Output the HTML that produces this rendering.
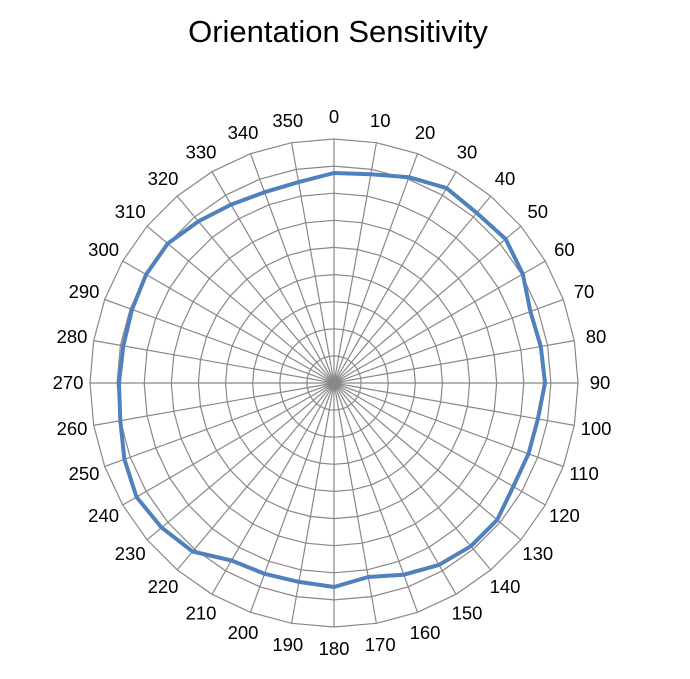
<!DOCTYPE html>
<html><head><meta charset="utf-8"><style>
html,body{margin:0;padding:0;background:#fff;}
svg{display:block}
</style></head><body>
<svg id="s" width="690" height="679" xmlns="http://www.w3.org/2000/svg">
<text x="338" y="42" font-family="Liberation Sans, sans-serif" font-size="31" text-anchor="middle" fill="#000">Orientation Sensitivity</text>
<g id="g"></g>
</svg>
<script>
var cx=334,cy=383,R=244,N=36,rings=9;
var g=document.getElementById('g'),h='';
function pt(a,r){var t=a*Math.PI/180;return [cx+r*Math.sin(t),cy-r*Math.cos(t)];}
for(var k=1;k<=rings;k++){var r=R*k/rings,p=[];for(var i=0;i<N;i++){var q=pt(i*10,r);p.push(q[0].toFixed(1)+','+q[1].toFixed(1));}
h+='<polygon points="'+p.join(' ')+'" fill="none" stroke="#888" stroke-width="1.2"/>';}
for(var i=0;i<N;i++){var q=pt(i*10,R);h+='<line x1="'+cx+'" y1="'+cy+'" x2="'+q[0].toFixed(1)+'" y2="'+q[1].toFixed(1)+'" stroke="#888" stroke-width="1.2"/>';}
var d=[210,212,219,225,222,224,218,209,210,211,207,207,207,213,213,210,204,197,204,202,203,205,220,225,228,223,217,215,214,215,217,217,211,206,203,204];
var p=[];for(var i=0;i<N;i++){var q=pt(i*10,d[i]);p.push(q[0].toFixed(1)+','+q[1].toFixed(1));}
h+='<polygon points="'+p.join(' ')+'" fill="none" stroke="#4F81BD" stroke-width="4" stroke-linejoin="round"/>';
for(var i=0;i<N;i++){var q=pt(i*10,266);h+='<text x="'+q[0].toFixed(1)+'" y="'+(q[1]+6).toFixed(1)+'" font-family="Liberation Sans, sans-serif" font-size="18.5" text-anchor="middle" fill="#000">'+(i*10)+'</text>';}
g.innerHTML=h;
</script>
</body></html>
